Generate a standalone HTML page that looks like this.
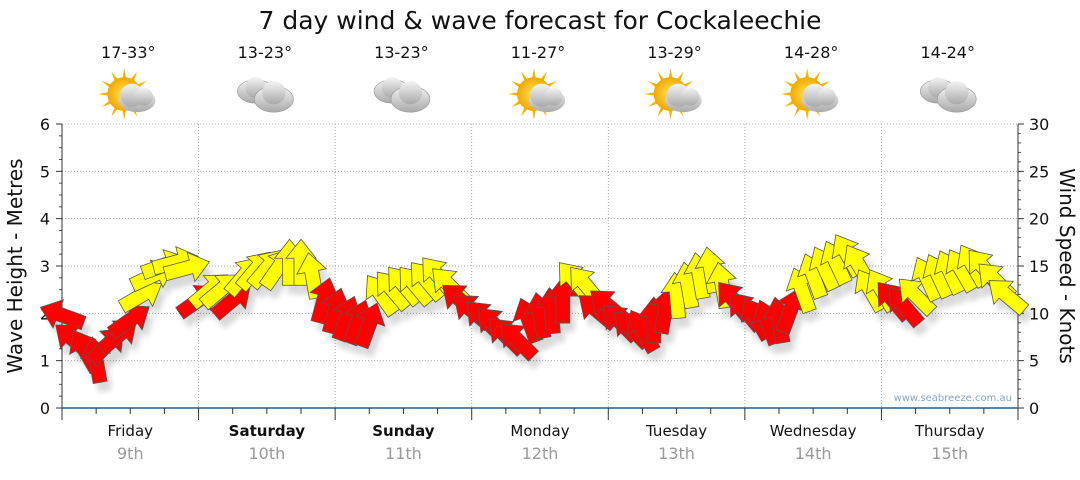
<!DOCTYPE html>
<html><head><meta charset="utf-8"><style>
body{margin:0;background:#fff;font-family:"Liberation Sans","DejaVu Sans",sans-serif}
svg text{font-family:"DejaVu Sans","Liberation Sans",sans-serif}
</style></head><body>
<svg id="c" width="1080" height="475" viewBox="0 0 1080 475" xmlns="http://www.w3.org/2000/svg">
<defs>
<radialGradient id="sun" cx="50%" cy="50%" r="50%"><stop offset="0" stop-color="#ffe45a"/><stop offset="1" stop-color="#f2a800"/></radialGradient>
<linearGradient id="cloud" x1="0" y1="0" x2="0" y2="1"><stop offset="0" stop-color="#f4f4f4"/><stop offset="1" stop-color="#a9a9a9"/></linearGradient>
<filter id="sh" x="-50%" y="-50%" width="200%" height="200%"><feGaussianBlur stdDeviation="3"/></filter>
</defs>
<text x="540" y="29" font-size="25" text-anchor="middle" fill="#111">7 day wind &amp; wave forecast for Cockaleechie</text>
<g id="grid"></g>
<g id="axes"></g>
<g id="shadows" opacity="0.15"></g>
<g id="arrows"></g>
<g id="topg"></g>
<text x="1012" y="401" font-size="10" text-anchor="end" fill="#8aa4c0">www.seabreeze.com.au</text>
<text transform="translate(22,266) rotate(-90)" font-size="20" text-anchor="middle" fill="#111">Wave Height - Metres</text>
<text transform="translate(1060,266) rotate(90)" font-size="20" text-anchor="middle" fill="#111">Wind Speed - Knots</text>
</svg>
<script>
const days=["Friday","Saturday","Sunday","Monday","Tuesday","Wednesday","Thursday"];
const dates=["9th","10th","11th","12th","13th","14th","15th"];
const boldDays=[false,true,true,false,false,false,false];
const temps=["17-33°","13-23°","13-23°","11-27°","13-29°","14-28°","14-24°"];
const sunny=[true,false,false,true,true,true,false];
const waveTicks=[0,1,2,3,4,5,6];
const windTicks=[0,5,10,15,20,25,30];
const stepHours=2;
const windSpeed=[
9.8,7.2,6.1,5.1,6.7,7.7,9.3,11.9,14,15.1,15.4,14.8,
11.4,12.5,12.5,11.4,14,14.6,14.8,14.8,15.4,15.4,14,11.4,
10.3,9.5,9.1,8.8,12,12.5,13,13,13.5,14,13,11.4,
10.3,9.5,8.8,7.7,7.2,9.3,9.8,10.3,11.4,13.5,13,10.3,
10.8,9.1,8.4,8.2,9.3,10.3,11.9,13,14,14.6,13,11.4,
10.3,9.5,9.1,9.3,10.3,12.5,14,14.8,15.4,16.2,15.1,12.5,
12.5,11.4,10.8,11.9,13.7,14,14.4,14.6,15.1,14.8,13.5,11.9];
const windDir=[
-160,-140,-120,-100,-45,-40,-35,-30,-25,-20,-15,-15,
-35,-40,-40,-40,-50,-50,-50,-55,-90,-90,-100,-75,
-75,-70,-70,-70,-125,-130,-130,-130,-130,-130,-135,-140,
-140,-135,-135,-135,-135,-110,-100,-95,-90,-130,-130,-140,
-140,-135,-135,-120,-90,-80,-95,-100,-100,-100,-100,-130,
-130,-120,-110,-100,-70,-110,-110,-115,-115,-120,-120,-120,
-120,-130,-130,-135,-115,-115,-115,-120,-120,-130,-135,-140];
const windColor=[
"r","r","r","r","r","r","r","y","y","y","y","y",
"r","y","y","r","y","y","y","y","y","y","y","r",
"r","r","r","r","y","y","y","y","y","y","y","r",
"r","r","r","r","r","r","r","r","r","y","y","r",
"r","r","r","r","r","r","y","y","y","y","y","r",
"r","r","r","r","r","y","y","y","y","y","y","y",
"y","r","r","y","y","y","y","y","y","y","y","y"];

const NS="http://www.w3.org/2000/svg";
const X0=62,X1=1018,Y0=408,Y1=124;
const xT=t=>X0+t/168*(X1-X0);
const yW=m=>Y0-m/6*(Y0-Y1);
const yK=k=>Y0-k/30*(Y0-Y1);
function mk(tag,attrs,parent){const e=document.createElementNS(NS,tag);for(const k in attrs)e.setAttribute(k,attrs[k]);parent.appendChild(e);return e;}
const gridG=document.getElementById('grid'),axesG=document.getElementById('axes'),topG=document.getElementById('topg');
waveTicks.forEach(m=>{if(m>0){const l=mk('line',{x1:X0,x2:X1,y1:yW(m),y2:yW(m),stroke:'#aaa','stroke-dasharray':'1,2'},gridG);

}
const t=mk('text',{x:50,y:yW(m)+6,'font-size':16,'text-anchor':'end',fill:'#111'},axesG);t.textContent=m;


mk('line',{x1:X0-6,x2:X0,y1:yW(m),y2:yW(m),stroke:'#333'},axesG);
for(let s=1;s<4&&m<6;s++)mk('line',{x1:X0-3,x2:X0,y1:yW(m+s/4),y2:yW(m+s/4),stroke:'#555'},axesG);});
windTicks.forEach(k=>{const t=mk('text',{x:1029,y:yK(k)+6,'font-size':16,fill:'#111'},axesG);t.textContent=k;


mk('line',{x1:X1,x2:X1+6,y1:yK(k),y2:yK(k),stroke:'#333'},axesG);
for(let s=1;s<5&&k<30;s++)mk('line',{x1:X1,x2:X1+3,y1:yK(k+s),y2:yK(k+s),stroke:'#555'},axesG);});
mk('line',{x1:X0,x2:X0,y1:Y1,y2:Y0,stroke:'#333'},axesG);
mk('line',{x1:X1,x2:X1,y1:Y1,y2:Y0,stroke:'#333'},axesG);
mk('line',{x1:X0,x2:X1,y1:Y0,y2:Y0,stroke:'#1f5f8f','stroke-width':1.5},axesG);
for(let h=0;h<=168;h+=6){const x=xT(h),maj=h%24==0;mk('line',{x1:x,x2:x,y1:Y0,y2:Y0+(maj?12:6),stroke:'#333'},axesG);
if(maj&&h>0&&h<168){const l=mk('line',{x1:x,x2:x,y1:Y1,y2:Y0,stroke:'#aaa','stroke-dasharray':'1,2'},gridG);

}}
days.forEach((d,i)=>{const cx=xT(i*24+12);
const t=mk('text',{x:cx,y:436,'font-size':15,'text-anchor':'middle',fill:'#111','font-weight':boldDays[i]?'bold':'normal'},axesG);t.textContent=d;


const t2=mk('text',{x:cx,y:459,'font-size':16,'text-anchor':'middle',fill:'#999'},axesG);t2.textContent=dates[i];


const t3=mk('text',{x:cx-2,y:58,'font-size':16,'text-anchor':'middle',fill:'#111'},topG);t3.textContent=temps[i];


const g=mk('g',{transform:`translate(${cx-6},94) scale(1.3)`},topG);


if(sunny[i]){for(let a=0;a<360;a+=30){const r=a*Math.PI/180;mk('polygon',{points:`${Math.cos(r-0.12)*12},${Math.sin(r-0.12)*12} ${Math.cos(r)*20},${Math.sin(r)*20} ${Math.cos(r+0.12)*12},${Math.sin(r+0.12)*12}`,fill:'#f5b400'},g);}
mk('circle',{cx:0,cy:0,r:13,fill:'url(#sun)'},g);
mk('ellipse',{cx:10,cy:5,rx:14,ry:9,fill:'url(#cloud)'},g);mk('circle',{cx:6,cy:1,r:9,fill:'url(#cloud)'},g);mk('circle',{cx:15,cy:2,r:7,fill:'url(#cloud)'},g);}
else{mk('ellipse',{cx:-4,cy:-2,rx:14,ry:9,fill:'url(#cloud)',stroke:'#999','stroke-width':0.5},g);mk('circle',{cx:-4,cy:-5,r:8,fill:'url(#cloud)'},g);
mk('ellipse',{cx:10,cy:4,rx:15,ry:10,fill:'url(#cloud)',stroke:'#999','stroke-width':0.5},g);mk('circle',{cx:10,cy:-1,r:9,fill:'url(#cloud)'},g);}
});
const arrowsG=document.getElementById('arrows'),shadowsG=document.getElementById('shadows');
const shape="-23,-7 4,-7 4,-15 23,0 4,15 4,7 -23,7";
windSpeed.forEach((k,i)=>{const x=xT(i*stepHours),y=yK(k);
const s=mk('polygon',{points:shape,fill:'#000',filter:'url(#sh)',transform:`translate(${x+5},${y+9}) rotate(${windDir[i]})`},shadowsG);


const p=mk('polygon',{points:shape,fill:windColor[i]=='r'?'#ff0000':'#ffff00',stroke:'#555','stroke-width':0.8,transform:`translate(${x},${y}) rotate(${windDir[i]})`},arrowsG);

});
</script>
</body></html>
